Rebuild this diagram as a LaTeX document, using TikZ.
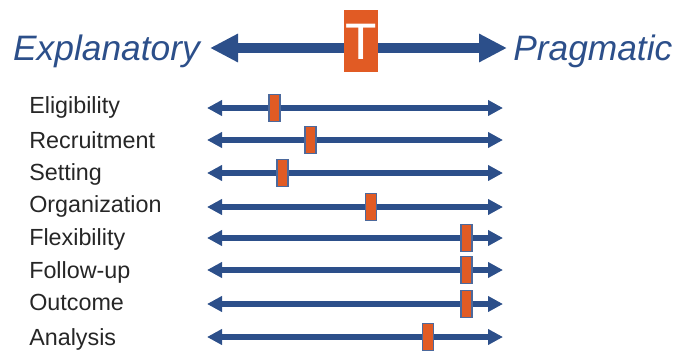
\documentclass[tikz,border=0pt]{standalone}
\usepackage{fontspec}
\setmainfont{Liberation Sans}
\usetikzlibrary{arrows.meta,positioning}

\definecolor{axisblue}{HTML}{2C4F8A}
\definecolor{markorange}{HTML}{E15B24}
\definecolor{labelgray}{HTML}{262626}

\tikzset{
  mainaxis/.style={axisblue, line width=7.5pt,
    {Triangle[length=21pt,width=20pt]}-{Triangle[length=21pt,width=20pt]}},
  rowaxis/.style={axisblue, line width=3.9pt,
    {Triangle[length=11.25pt,width=11.25pt]}-{Triangle[length=11.25pt,width=11.25pt]}},
  marker/.style={draw=axisblue!85, line width=0.8pt, fill=markorange,
    minimum width=8.25pt, minimum height=20.25pt, inner sep=0pt},
  rowlabel/.style={labelgray, font=\fontsize{17.5}{20}\selectfont,
    anchor=base west, inner sep=0pt},
  endlabel/.style={axisblue, font=\fontsize{26.5}{30}\selectfont\itshape,
    inner sep=0pt}
}

\begin{document}
\begin{tikzpicture}[x=0.75pt,y=-0.75pt]
  \useasboundingbox (0,0) rectangle (678,350);

  % top scale
  \coordinate (ltip) at (210,48);
  \coordinate (rtip) at (507,48);
  \draw[mainaxis] (ltip) -- (rtip);
  \node[endlabel, anchor=base east] (expl) at (200,60) {Explanatory};
  \node[endlabel, anchor=base west] (prag) at (513,60) {Pragmatic};
  \node[fill=markorange, minimum width=25.5pt, minimum height=46.5pt,
        inner sep=0pt, text=white, font=\fontsize{38.5}{40}\selectfont,
        text height=27.5pt, text depth=0pt] (trial) at (361,41) {T};

  % domains
  \foreach \name/\rowy/\basey/\mx [count=\i] in {
      Eligibility/108/113/274.5,
      Recruitment/140/148/310.5,
      Setting/173/180/282.5,
      Organization/207/212/371,
      Flexibility/238/245/466.5,
      Follow-up/270/278/466.5,
      Outcome/304/310/466.5,
      Analysis/337/345/428}{
    \node[rowlabel] (lab\i) at (29,\basey) {\name};
    \coordinate (l\i) at (207,\rowy);
    \coordinate (r\i) at (503,\rowy);
    \draw[rowaxis] (l\i) -- (r\i);
    \node[marker] (m\i) at (\mx,\rowy) {};
  }
\end{tikzpicture}
\end{document}
